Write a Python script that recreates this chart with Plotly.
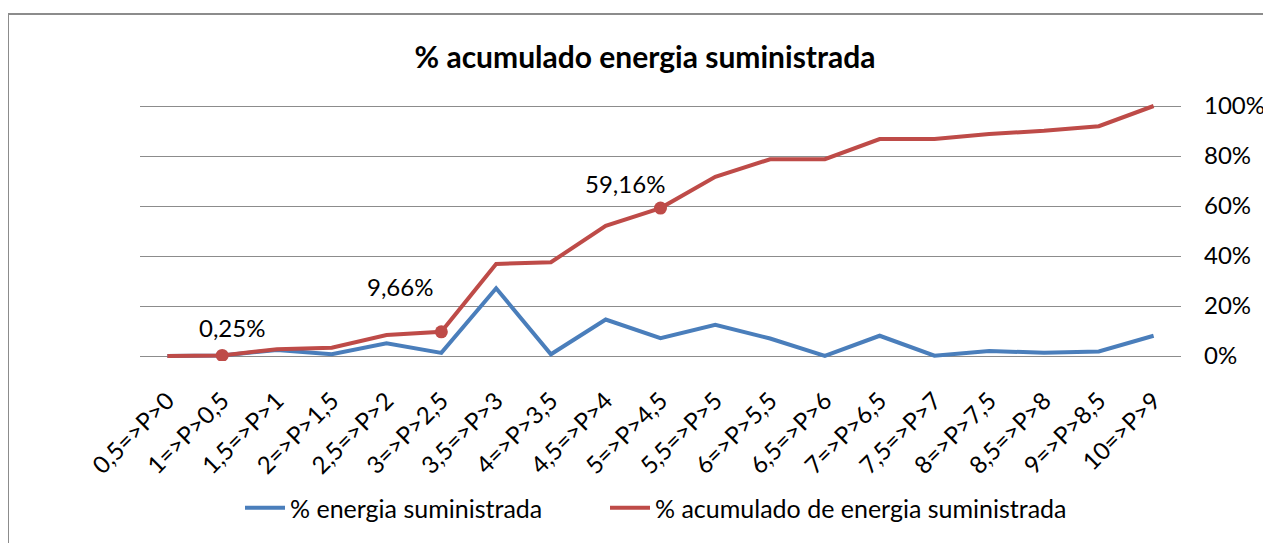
import plotly.graph_objects as go

categorias = ["0,5=>P>0", "1=>P>0,5", "1,5=>P>1", "2=>P>1,5", "2,5=>P>2", "3=>P>2,5",
              "3,5=>P>3", "4=>P>3,5", "4,5=>P>4", "5=>P>4,5", "5,5=>P>5", "6=>P>5,5",
              "6,5=>P>6", "7=>P>6,5", "7,5=>P>7", "8=>P>7,5", "8,5=>P>8", "9=>P>8,5", "10=>P>9"]
energia = [0, 0.25, 2.4, 0.7, 5.1, 1.26, 27.1, 0.7, 14.6, 7.1, 12.5, 7.0, 0.05, 8.1, 0.1, 2.0, 1.3, 1.8, 8.1]
acumulado = [0, 0.25, 2.7, 3.3, 8.4, 9.66, 36.8, 37.5, 52.1, 59.16, 71.7, 78.7, 78.7, 86.8, 86.8, 88.8, 90.1, 91.9, 100]
etiquetas_idx = [1, 5, 9]
etiqueta_offsets = [(10, -28), (-41, -45), (-36, -25)]
y_ticks = [0, 20, 40, 60, 80, 100]

BLUE = "#4A7EBB"
RED = "#BE4B48"
FONT = "Lato"

fig = go.Figure()
fig.add_trace(go.Scatter(x=categorias, y=energia, mode="lines", name="% energia suministrada",
                         line=dict(color=BLUE, width=4), legend="legend"))
fig.add_trace(go.Scatter(x=categorias, y=acumulado, mode="lines", name="% acumulado de energia suministrada",
                         line=dict(color=RED, width=4), legend="legend2"))
fig.add_trace(go.Scatter(x=[categorias[i] for i in etiquetas_idx], y=[acumulado[i] for i in etiquetas_idx],
                         mode="markers", marker=dict(color=RED, size=13), showlegend=False, hoverinfo="skip"))

for i, (dx, dy) in zip(etiquetas_idx, etiqueta_offsets):
    fig.add_annotation(x=categorias[i], y=acumulado[i], text=f"{acumulado[i]:.2f}".replace(".", ",") + "%",
                       showarrow=False, xshift=dx, yshift=-dy, font=dict(family=FONT, size=24, color="black"))

OFF = 8  # page offset of the plot div
W, H = 1271, 543
pw, ph = 1041, 260
L, T = 140 - OFF, 101 - OFF
R = W - L - pw
B = H - T - ph


def px_x(p):
    return (p - OFF - L) / pw


def px_y(p):
    return (OFF + T + ph - p) / ph


border = dict(color="#8c8c8c", width=2)
fig.add_shape(type="line", xref="paper", yref="paper", x0=px_x(8), x1=px_x(8), y0=px_y(14), y1=px_y(600), line=border)
fig.add_shape(type="line", xref="paper", yref="paper", x0=px_x(8), x1=px_x(1300), y0=px_y(14), y1=px_y(14), line=border)

legend_common = dict(orientation="h", xanchor="left", yanchor="middle", y=px_y(508),
                     font=dict(family=FONT, size=25), itemwidth=40, bgcolor="rgba(0,0,0,0)")

fig.update_layout(
    width=W, height=H,
    margin=dict(l=L, r=R, t=T, b=B),
    paper_bgcolor="white", plot_bgcolor="white",
    font=dict(family=FONT, size=24, color="black"),
    title=dict(text="<b>% acumulado energia suministrada</b>", x=(645 - OFF) / W, xanchor="center",
               y=1 - (57 - OFF) / H, yanchor="middle", font=dict(family=FONT, size=30, color="black")),
    showlegend=True,
    legend=dict(x=px_x(240), **legend_common),
    legend2=dict(x=px_x(605), **legend_common),
    xaxis=dict(type="category", tickangle=-45, showgrid=False, showline=False, ticks="",
               ticklabelstandoff=20, range=[-0.5, len(categorias) - 0.5], tickfont=dict(size=24)),
    yaxis=dict(side="right", range=[-2, 102], tickvals=y_ticks, ticktext=[f"{v}%" for v in y_ticks],
               showgrid=True, gridcolor="#8c8c8c", gridwidth=1.3, zeroline=True, zerolinecolor="#8c8c8c",
               zerolinewidth=1.3, showline=False, ticks="", ticklabelstandoff=22, tickfont=dict(size=24)),
)

fig.write_html("out.html")
